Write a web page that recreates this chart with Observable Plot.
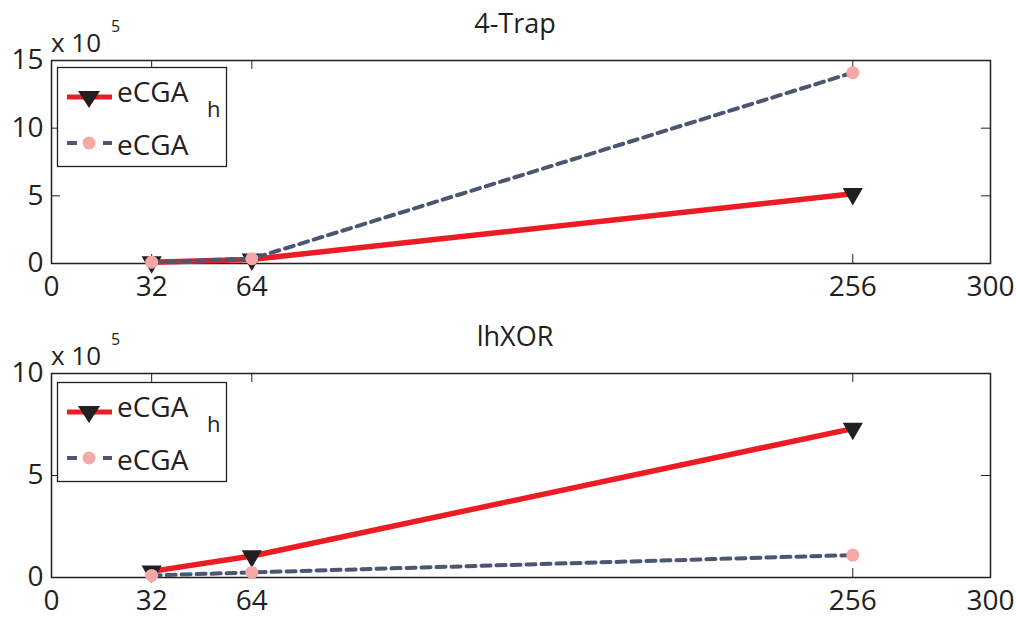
<!DOCTYPE html>
<html>
<head>
<meta charset="utf-8">
<script src="https://cdn.jsdelivr.net/npm/d3@7"></script>
<script src="https://cdn.jsdelivr.net/npm/@observablehq/plot@0.6"></script>
<style>
  body { margin: 0; background: #fff; }
  #wrap { position: relative; width: 1016px; height: 619px; overflow: hidden; font-family: "Open Sans", sans-serif; color: #231f20; }
  .abs { position: absolute; left: 0; }
  svg text { font-family: "Open Sans", sans-serif; }
</style>
</head>
<body>
<div id="wrap">
  <div id="top" class="abs" style="top:0"></div>
  <div id="bottom" class="abs" style="top:310px"></div>
</div>
<script>
// ---- data (values in units of 10^5) ----
const sizes = [32, 64, 256];
const trapECGAh = [0.1, 0.3, 5.15];
const trapECGA = [0.1, 0.35, 14.1];
const xorECGAh = [0.3, 1.05, 7.3];
const xorECGA = [0.1, 0.25, 1.1];
const xTicks = [0, 32, 64, 256, 300];
const trapYTicks = [0, 5, 10, 15];
const xorYTicks = [0, 5, 10];
const titles = ["4-Trap", "lhXOR"];
const seriesNames = ["eCGA", "eCGA"];

const INK = "#231f20";
const RED = "#ed1c24";
const SLATE = "#4b5673";
const PINK = "#f4a8a8";

function panel({hVals, gVals, yMax, yTicks, height, marginTop, marginBottom}) {
  const W = 1016, mL = 51, mR = 26;
  const areaW = W - mL - mR;
  const areaH = height - marginTop - marginBottom;
  const hData = sizes.map((x, i) => ({x, y: hVals[i]}));
  const gData = sizes.map((x, i) => ({x, y: gVals[i]}));
  const tl = 9;
  return Plot.plot({
    width: W, height,
    marginLeft: mL, marginRight: mR, marginTop, marginBottom,
    style: {fontFamily: "Open Sans", fontSize: "28px", color: INK, background: "#fff", overflow: "visible"},
    x: {domain: [0, 300]},
    y: {domain: [0, yMax]},
    marks: [
      Plot.axisX({ticks: xTicks, tickSize: 0, tickPadding: 13, tickFormat: d => String(d), fill: INK, label: null}),
      Plot.axisY({ticks: yTicks, tickSize: 0, tickPadding: 8, tickFormat: d => String(d), fill: INK, label: null}),
      Plot.tickX(xTicks, {x: d => d, insetTop: areaH - tl, stroke: INK, strokeWidth: 1}),
      Plot.tickX(xTicks, {x: d => d, insetBottom: areaH - tl, stroke: INK, strokeWidth: 1}),
      Plot.tickY(yTicks, {y: d => d, insetRight: areaW - tl, stroke: INK, strokeWidth: 1}),
      Plot.tickY(yTicks, {y: d => d, insetLeft: areaW - tl, stroke: INK, strokeWidth: 1}),
      Plot.frame({stroke: INK, strokeWidth: 1.5}),
      Plot.line(hData, {x: "x", y: "y", stroke: RED, strokeWidth: 5.5}),
      Plot.dot(hData, {x: "x", y: "y", symbol: "triangle", r: 7.5, fill: INK, stroke: null, rotate: 180}),
      Plot.line(gData, {x: "x", y: "y", stroke: SLATE, strokeWidth: 4, strokeDasharray: "9,6"}),
      Plot.dot(gData, {x: "x", y: "y", r: 6.5, fill: PINK, stroke: null})
    ]
  });
}

document.getElementById("top").appendChild(panel({
  hVals: trapECGAh, gVals: trapECGA, yMax: 15, yTicks: trapYTicks,
  height: 310, marginTop: 60, marginBottom: 47
}));
document.getElementById("bottom").appendChild(panel({
  hVals: xorECGAh, gVals: xorECGA, yMax: 10, yTicks: xorYTicks,
  height: 309, marginTop: 63, marginBottom: 42
}));

// ---- overlay text: titles, exponent labels, legends ----
const NS = "http://www.w3.org/2000/svg";
const wrap = document.getElementById("wrap");
const ov = document.createElementNS(NS, "svg");
ov.setAttribute("width", 1016); ov.setAttribute("height", 619);
ov.setAttribute("style", "position:absolute;left:0;top:0;pointer-events:none");
function el(tag, attrs, text) {
  const e = document.createElementNS(NS, tag);
  for (const k in attrs) e.setAttribute(k, attrs[k]);
  if (text != null) e.textContent = text;
  ov.appendChild(e);
  return e;
}
const panelTops = [0, 315];
const axTops = [60, 373];
titles.forEach((t, i) => {
  el("text", {x: 515, y: axTops[i] - 27, "text-anchor": "middle", "font-size": 27, fill: INK}, t);
  el("text", {x: 51, y: axTops[i] - 8, "font-size": 26, fill: INK}, "x 10");
  el("text", {x: 111, y: axTops[i] - 28, "font-size": 16, fill: INK}, "5");
  // legend
  const ox = 57, oy = 67 + panelTops[i];
  el("rect", {x: ox + 0.5, y: oy + 0.5, width: 169, height: 99, fill: "#fff", stroke: INK, "stroke-width": 1.3});
  el("line", {x1: ox + 10, x2: ox + 55, y1: oy + 30, y2: oy + 30, stroke: RED, "stroke-width": 5});
  el("path", {d: `M${ox + 21},${oy + 24}L${ox + 43},${oy + 24}L${ox + 32},${oy + 41}Z`, fill: INK});
  el("text", {x: ox + 60, y: oy + 35, "font-size": 28, fill: INK}, seriesNames[0]);
  el("text", {x: ox + 150, y: oy + 50, "font-size": 22, fill: INK}, "h");
  el("line", {x1: ox + 10, x2: ox + 55, y1: oy + 76, y2: oy + 76, stroke: SLATE, "stroke-width": 4, "stroke-dasharray": "10,26,10"});
  el("circle", {cx: ox + 32, cy: oy + 76, r: 6.5, fill: PINK});
  el("text", {x: ox + 60, y: oy + 88, "font-size": 28, fill: INK}, seriesNames[1]);
});
wrap.appendChild(ov);
</script>
</body>
</html>
